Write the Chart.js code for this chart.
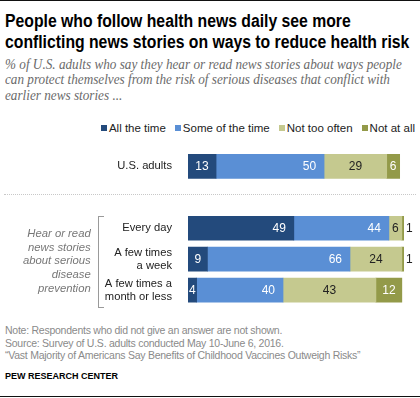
<!DOCTYPE html>
<html>
<head>
<meta charset="utf-8">
<script src="https://cdn.jsdelivr.net/npm/chart.js@4/dist/chart.umd.min.js"></script>
<style>
  html, body { margin: 0; padding: 0; background: #fff; }
  body { width: 420px; height: 398px; position: relative; overflow: hidden; font-family: "Liberation Sans", Arial, sans-serif; }
  .abs { position: absolute; white-space: nowrap; }
  #topline { left: 0; top: 0; width: 420px; height: 0; border-top: 1.5px solid #111; position: absolute; }
  #bottomline { left: 0; top: 396px; width: 420px; height: 0; border-top: 1px solid #111; position: absolute; }
  #title { left: 5px; top: 11px; font-weight: bold; font-size: 17.5px; line-height: 20.5px; color: #000; transform: scaleX(0.9); transform-origin: 0 0; }
  #subtitle { left: 5px; top: 56.6px; font-family: "Liberation Serif", serif; font-style: italic; font-size: 14.5px; line-height: 15.8px; color: #6a6a6a; transform: scaleX(0.91); transform-origin: 0 0; }
  #legend { right: 5px; top: 120.7px; font-size: 11.5px; line-height: 14px; color: #222; display: flex; align-items: center; }
  #legend .item { display: flex; align-items: center; margin-left: 9px; }
  #legend .sw { width: 6px; height: 6px; margin-right: 2px; display: inline-block; }
  #sep { left: 4px; top: 194px; width: 412px; height: 0; border-top: 1px dotted #c8c8c8; position: absolute; }
  #bracketText { right: 329.3px; top: 227.2px; font-style: italic; font-size: 11.3px; line-height: 13.6px; color: #777; text-align: right; }
  #bracket { left: 98px; top: 216px; width: 5px; height: 90px; border: 1px solid #9a9a9a; border-right: none; position: absolute; }
  #notes { left: 5px; top: 324.4px; font-size: 10.5px; line-height: 12.5px; letter-spacing: -0.25px; color: #8a8a8a; }
  #pew { left: 5px; top: 371.2px; font-size: 9px; line-height: 10px; font-weight: bold; color: #000; }
  #chartWrap { position: absolute; left: 0; top: 130px; width: 420px; height: 190px; }
</style>
</head>
<body>
<div id="topline"></div>
<div id="title" class="abs">People who follow health news daily see more<br>conflicting news stories on ways to reduce health risk</div>
<div id="subtitle" class="abs">% of U.S. adults who say they hear or read news stories about ways people<br>can protect themselves from the risk of serious diseases that conflict with<br>earlier news stories ...</div>
<div id="legend" class="abs"></div>
<div id="chartWrap"><canvas id="c" width="420" height="190"></canvas></div>
<div id="sep"></div>
<div id="bracket"></div>
<div id="bracketText" class="abs">Hear or read<br>news stories<br>about serious<br>disease<br>prevention</div>
<div id="notes" class="abs">Note: Respondents who did not give an answer are not shown.<br>Source: Survey of U.S. adults conducted May 10-June 6, 2016.<br>“Vast Majority of Americans Say Benefits of Childhood Vaccines Outweigh Risks”</div>
<div id="pew" class="abs">PEW RESEARCH CENTER</div>
<div id="bottomline"></div>
<script>
// ---- data ----
const categories = ['U.S. adults', '', 'Every day', ['A few times', 'a week'], ['A few times a', 'month or less']];
const seriesNames = ['All the time', 'Some of the time', 'Not too often', 'Not at all'];
const allTheTime   = [13, null, 49, 9, 4];
const someOfTheTime = [50, null, 44, 66, 40];
const notTooOften  = [29, null, 6, 24, 43];
const notAtAll     = [6, null, 1, 1, 12];
const seriesColors = ['#234a7c', '#5a8fd5', '#c5c98f', '#939a49'];

// ---- legend (HTML) ----
const legendEl = document.getElementById('legend');
seriesNames.forEach((name, i) => {
  const item = document.createElement('span');
  item.className = 'item';
  const sw = document.createElement('span');
  sw.className = 'sw';
  sw.style.background = seriesColors[i];
  item.appendChild(sw);
  item.appendChild(document.createTextNode(name));
  legendEl.appendChild(item);
});

const seriesValues = [allTheTime, someOfTheTime, notTooOften, notAtAll];
const datasets = seriesValues.map((vals, i) => ({
  label: seriesNames[i],
  data: vals,
  backgroundColor: seriesColors[i],
  borderWidth: 0,
  barThickness: 24
}));

const valueLabels = {
  id: 'valueLabels',
  afterDatasetsDraw(chart) {
    const ctx = chart.ctx;
    ctx.save();
    ctx.font = '12px "Liberation Sans", Arial, sans-serif';
    ctx.textBaseline = 'middle';
    chart.data.datasets.forEach((ds, di) => {
      const meta = chart.getDatasetMeta(di);
      meta.data.forEach((bar, j) => {
        const v = ds.data[j];
        if (v == null) return;
        const left = Math.min(bar.x, bar.base), right = Math.max(bar.x, bar.base);
        const w = right - left;
        const y = bar.y + 0.5;
        const txt = String(v);
        if (di === 0) {
          ctx.fillStyle = '#fff';
          if (w > 30) { ctx.textAlign = 'right'; ctx.fillText(txt, right - 8, y); }
          else { ctx.textAlign = 'center'; ctx.fillText(txt, (left + right) / 2, y); }
        } else if (di === 1) {
          ctx.fillStyle = '#fff'; ctx.textAlign = 'right'; ctx.fillText(txt, right - 8, y);
        } else if (di === 2) {
          ctx.fillStyle = '#222'; ctx.textAlign = 'center'; ctx.fillText(txt, (left + right) / 2, y);
        } else {
          if (w > 8) { ctx.fillStyle = '#fff'; ctx.textAlign = 'center'; ctx.fillText(txt, (left + right) / 2, y); }
          else { ctx.fillStyle = '#222'; ctx.textAlign = 'left'; ctx.fillText(txt, right + 2, y); }
        }
      });
    });
    ctx.restore();
  }
};

new Chart(document.getElementById('c'), {
  type: 'bar',
  data: { labels: categories, datasets },
  options: {
    indexAxis: 'y',
    responsive: false,
    devicePixelRatio: 1,
    animation: false,
    layout: { padding: { top: 13.4, bottom: 10.4, left: 0, right: 16 } },
    plugins: { legend: { display: false }, tooltip: { enabled: false } },
    scales: {
      x: { stacked: true, min: 0, max: 100, display: false },
      y: {
        stacked: true,
        grid: { display: false },
        border: { display: false },
        ticks: { color: '#222', padding: 8, font: { family: '"Liberation Sans", Arial, sans-serif', size: 11.2, lineHeight: 1.15 } },
        afterFit(scale) { scale.width = 188; }
      }
    }
  },
  plugins: [valueLabels]
});
</script>
</body>
</html>
